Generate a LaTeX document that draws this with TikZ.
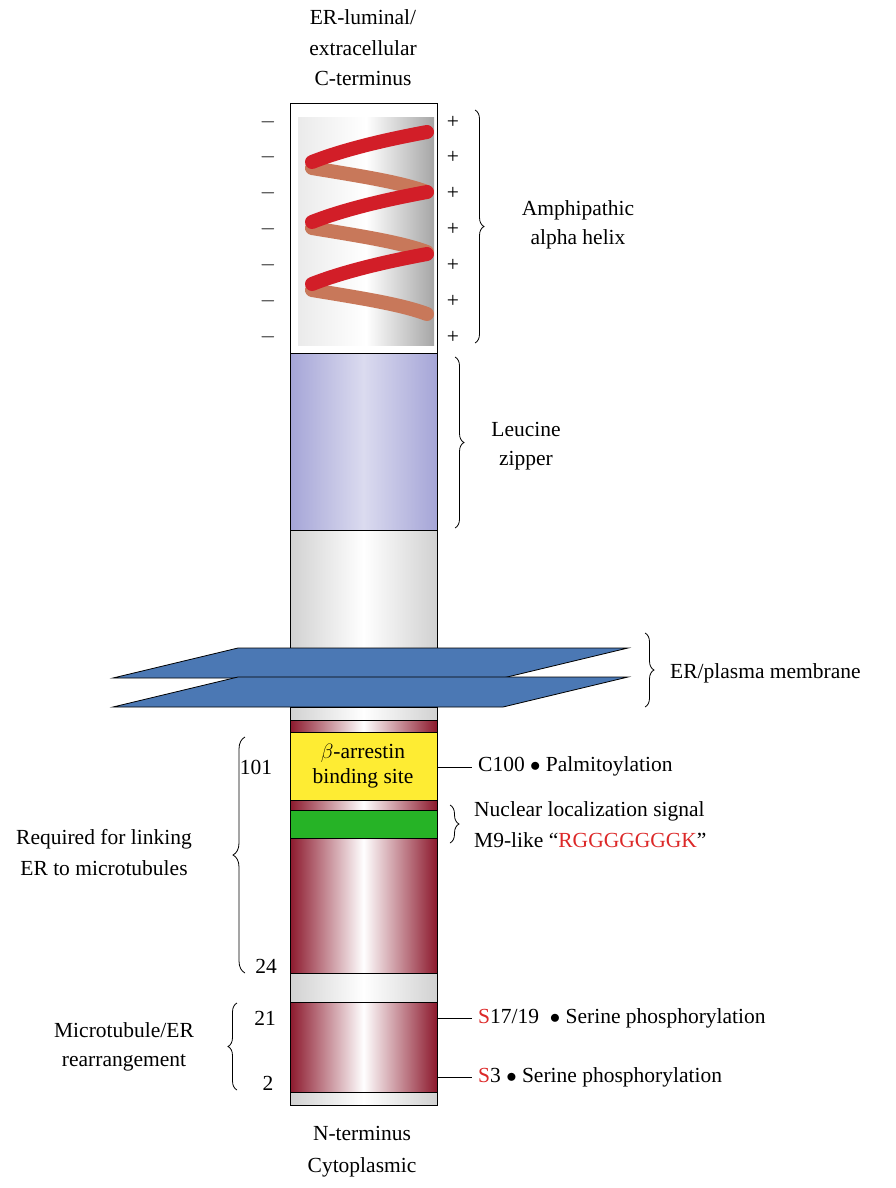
\documentclass[tikz,border=0pt]{standalone}
\usepackage{fontspec}
\setmainfont{Liberation Serif}
\usetikzlibrary{decorations.pathreplacing}
\begin{document}
\definecolor{dred}{RGB}{140,25,45}
\definecolor{memb}{RGB}{75,120,180}
\definecolor{lav}{RGB}{165,165,215}
\definecolor{hred}{RGB}{210,30,40}
\definecolor{htan}{RGB}{200,120,90}
\definecolor{sred}{RGB}{220,40,40}
\begin{tikzpicture}[x=1pt,y=-1pt,
  txt/.style={font=\fontsize{21.5}{25}\selectfont,inner sep=0pt},
  seg/.style={left color=#1,right color=#1,middle color=white,shading angle=90,draw=black,line width=0.8pt},
  redseg/.style={seg=dred},
  grayseg/.style={seg=black!18},
  br/.style={decorate,decoration={brace,amplitude=9pt},line width=0.8pt},
  plane/.style={fill=memb,draw=black,line width=0.8pt},
  lnk/.style={line width=0.8pt},
  hel/.style={line width=14pt,line cap=round}]
\useasboundingbox (0,0) rectangle (895,1188);
% top text
\node[txt] (t1) at (363,17) {ER-luminal/};
\node[txt] (t2) at (363,48) {extracellular};
\node[txt] (t3) at (363,78) {C-terminus};
% column upper part
\fill[white] (290,103) rectangle (437,353);
\shade[left color=black!8,right color=black!35,middle color=white] (298,118) rectangle (434,345);
\foreach \a in {132,192,254}{
  \draw[hel,htan] (312,\a+36) .. controls (360,\a+44) and (400,\a+50) .. (427,\a+60);}
\foreach \a in {132,192,254}{
  \draw[hel,hred] (312,\a+30) .. controls (350,\a+15) and (400,\a+5) .. (427,\a);}
\draw[line width=0.8pt] (290,103) rectangle (437,353);
\shade[left color=lav,right color=lav,middle color=lav!40,shading angle=90,draw=black,line width=0.8pt] (290,353) rectangle (437,530);
\shade[grayseg] (290,530) rectangle (437,720);
% membranes
\draw[plane] (113,678) -- (238,648) -- (628,648) -- (503,678) -- cycle;
\draw[plane] (113,707) -- (238,677) -- (628,677) -- (503,707) -- cycle;
\shade[grayseg] (290,707) rectangle (437,720);
\shade[redseg] (290,720) rectangle (437,732);
\draw[line width=0.8pt,fill=yellow!90!orange!80] (290,732) rectangle (437,800);
\shade[redseg] (290,800) rectangle (437,810);
\draw[line width=0.8pt,fill=green!65!black!85] (290,810) rectangle (437,838);
\shade[redseg] (290,838) rectangle (437,973);
\shade[grayseg] (290,973) rectangle (437,1002);
\shade[redseg] (290,1002) rectangle (437,1092);
\shade[grayseg] (290,1092) rectangle (437,1105);
\node[txt,align=center] (beta) at (363,766) {$\beta$-arrestin\\binding site};
% minus / plus
\foreach \y in {122,157,193,229,265,301,337}{
  \node[txt] at (268,\y) {$-$};
  \node[txt] at (453,\y) {+};}
% braces right
\draw[br] (475,110) -- (475,343);
\node[txt,align=center] (amp) at (578,225) {Amphipathic\\[4pt]alpha helix};
\draw[br] (455,357) -- (455,528);
\node[txt,align=center] (leu) at (526,446) {Leucine\\[4pt]zipper};
\draw[br] (645,633) -- (645,707);
\node[txt,anchor=west] (erpm) at (670,673) {ER/plasma membrane};
\draw[br] (450,805) -- (450,843);
\node[txt,anchor=west] (nls) at (474,811) {Nuclear localization signal};
\node[txt,anchor=west] (m9) at (474,840) {M9-like “\textcolor{sred}{RGGGGGGGK}”};
% lines
\coordinate (c1) at (472,767);
\draw[lnk] (437,767) -- (c1);
\node[txt,anchor=west] (c100) at (478,766) {C100 $\bullet$ Palmitoylation};
\coordinate (s1) at (472,1018);
\draw[lnk] (437,1018) -- (s1);
\node[txt,anchor=west] (s17) at (478,1018) {\textcolor{sred}{S}17/19 \ $\bullet$ Serine phosphorylation};
\coordinate (s2) at (472,1077);
\draw[lnk] (437,1077) -- (s2);
\node[txt,anchor=west] (s3) at (478,1077) {\textcolor{sred}{S}3 $\bullet$ Serine phosphorylation};
% left braces
\draw[br,decoration={brace,amplitude=12pt}] (245,973) -- (245,737);
\node[txt] (n101) at (256,767) {101};
\node[txt] (n24) at (266,966) {24};
\node[txt,align=center] (req) at (104,853) {Required for linking\\[6pt]ER to microtubules};
\draw[br] (237,1090) -- (237,1003);
\node[txt] (n21) at (265,1018) {21};
\node[txt] (n2) at (268,1083) {2};
\node[txt,align=center] (mt) at (124,1047) {Microtubule/ER\\[4pt]rearrangement};
\node[txt] (nt) at (362,1133) {N-terminus};
\node[txt] (cy) at (362,1167) {Cytoplasmic};
\end{tikzpicture}
\end{document}
